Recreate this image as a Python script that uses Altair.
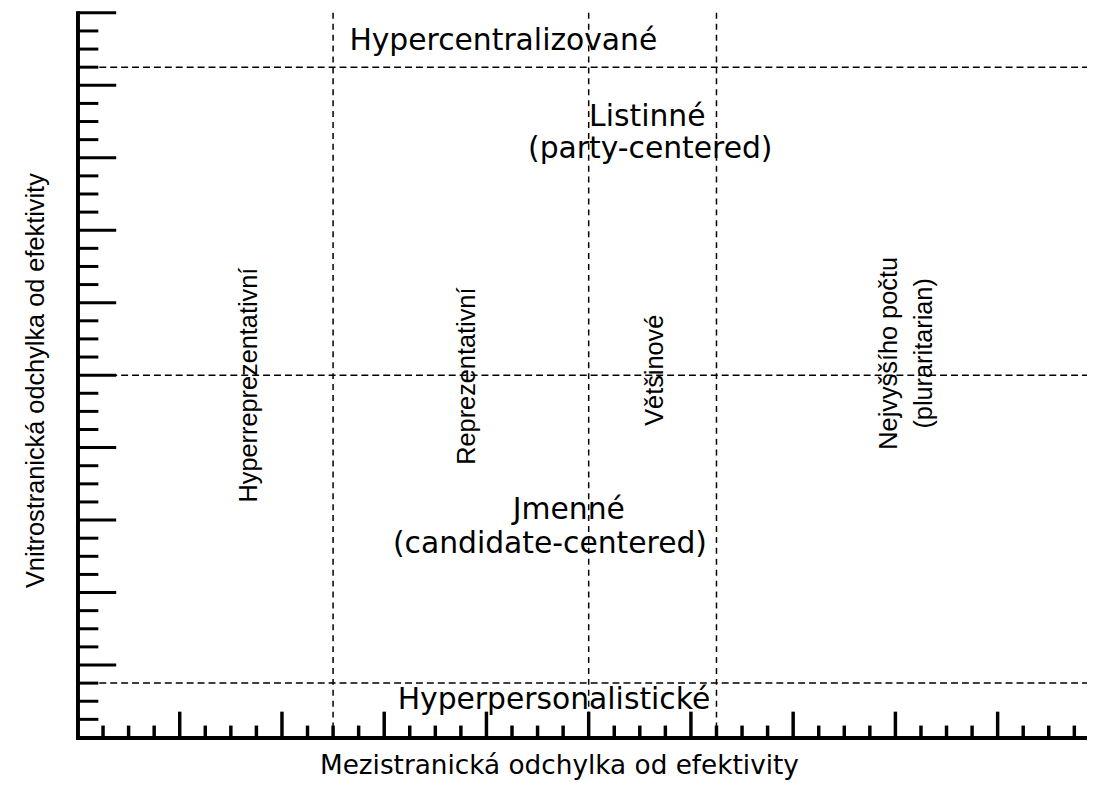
import altair as alt
import pandas as pd

# ---- axis extents (data units) ----
X_MAX = 9.874
Y_MAX = 10.0

# ---- dividing (dashed) lines ----
h_lines = [0.75, 5.0, 9.25]
v_lines = [2.5, 5.0, 6.25]

# ---- axis tick positions ----
x_major = [1, 2, 3, 4, 5, 6, 7, 8, 9]
x_minor = [q / 4 for q in range(1, 40) if q % 4]
y_major = [1, 2, 3, 4, 5, 6, 7, 8, 9, 10]
y_minor = [q / 4 for q in range(1, 40) if q % 4]

# ---- horizontal labels ----
h_text = ["Hypercentralizované", "Listinné", "(party-centered)",
          "Jmenné", "(candidate-centered)", "Hyperpersonalistické"]
h_x = [4.165, 5.573, 5.602, 4.806, 4.621, 4.660]
h_y = [9.616, 8.562, 8.123, 3.137, 2.671, 0.521]

# ---- vertical (rotated) labels ----
v_text = ["Hyperreprezentativní", "Reprezentativní", "Většinové",
          "Nejvyššího počtu", "(pluraritarian)"]
v_x = [1.680, 3.806, 5.650, 7.942, 8.282]
v_y = [4.863, 4.986, 5.068, 5.301, 5.301]

x_title = "Mezistranická odchylka od efektivity"
y_title = "Vnitrostranická odchylka od efektivity"

W, H = 1017, 730
ARIAL = "Liberation Sans, Arial, sans-serif"
WIDE = "DejaVu Sans, Verdana, sans-serif"

xs = alt.Scale(domain=[0, X_MAX], nice=False, zero=False)
ys = alt.Scale(domain=[0, Y_MAX], nice=False, zero=False)

xaxis = alt.Axis(orient="bottom", title=x_title, ticks=False, labels=False, grid=False,
                 domainWidth=4, domainColor="black", domainCap="square",
                 titleFont=WIDE, titleFontSize=26.5, titleFontWeight="normal", titleColor="black",
                 titleX=485, titleY=28, titleAlign="center", titleBaseline="middle")
yaxis = alt.Axis(orient="left", title=y_title, ticks=False, labels=False, grid=False,
                 domainWidth=4, domainColor="black", domainCap="square",
                 titleFont=ARIAL, titleFontSize=25.5, titleFontWeight="normal", titleColor="black",
                 titleAngle=270, titleX=-42, titleY=370, titleAlign="center", titleBaseline="middle")

X = lambda: alt.X("v:Q", scale=xs, axis=xaxis)
Y = lambda: alt.Y("v:Q", scale=ys, axis=yaxis)

df = lambda vals: pd.DataFrame({"v": vals})

hl = alt.Chart(df(h_lines)).mark_rule(color="black", strokeWidth=1.5, strokeDash=[7, 4]).encode(
    y=Y(), x=alt.value(0), x2=alt.value(W))
vl = alt.Chart(df(v_lines)).mark_rule(color="black", strokeWidth=1.5, strokeDash=[6, 5]).encode(
    x=X(), y=alt.value(0), y2=alt.value(H))

ytl = alt.Chart(df(y_major)).mark_rule(color="black", strokeWidth=3).encode(
    y=Y(), x=alt.value(0), x2=alt.value(39))
yts = alt.Chart(df(y_minor)).mark_rule(color="black", strokeWidth=3).encode(
    y=Y(), x=alt.value(0), x2=alt.value(21))
xtl = alt.Chart(df(x_major)).mark_rule(color="black", strokeWidth=3.5).encode(
    x=X(), y=alt.value(H), y2=alt.value(H - 26))
xts = alt.Chart(df(x_minor)).mark_rule(color="black", strokeWidth=3.5).encode(
    x=X(), y=alt.value(H), y2=alt.value(H - 12))

htxt = alt.Chart(pd.DataFrame({"t": h_text, "x": h_x, "y": h_y})).mark_text(
    font=WIDE, fontSize=30, align="center", baseline="middle", color="black").encode(
    x=alt.X("x:Q", scale=xs, axis=xaxis), y=alt.Y("y:Q", scale=ys, axis=yaxis), text="t:N")
vtxt = alt.Chart(pd.DataFrame({"t": v_text, "x": v_x, "y": v_y})).mark_text(
    font=ARIAL, fontSize=25.5, angle=270, align="center", baseline="middle", color="black").encode(
    x=alt.X("x:Q", scale=xs, axis=xaxis), y=alt.Y("y:Q", scale=ys, axis=yaxis), text="t:N")

chart = alt.layer(hl, vl, yts, ytl, xts, xtl, htxt, vtxt).properties(
    width=W, height=H,
    autosize=alt.AutoSizeParams(type="none"),
    padding={"left": 70, "top": 2, "right": 0, "bottom": 43},
    background="white",
).configure_view(strokeWidth=0)

chart.save("out.html", embed_options={"renderer": "svg", "actions": False})
